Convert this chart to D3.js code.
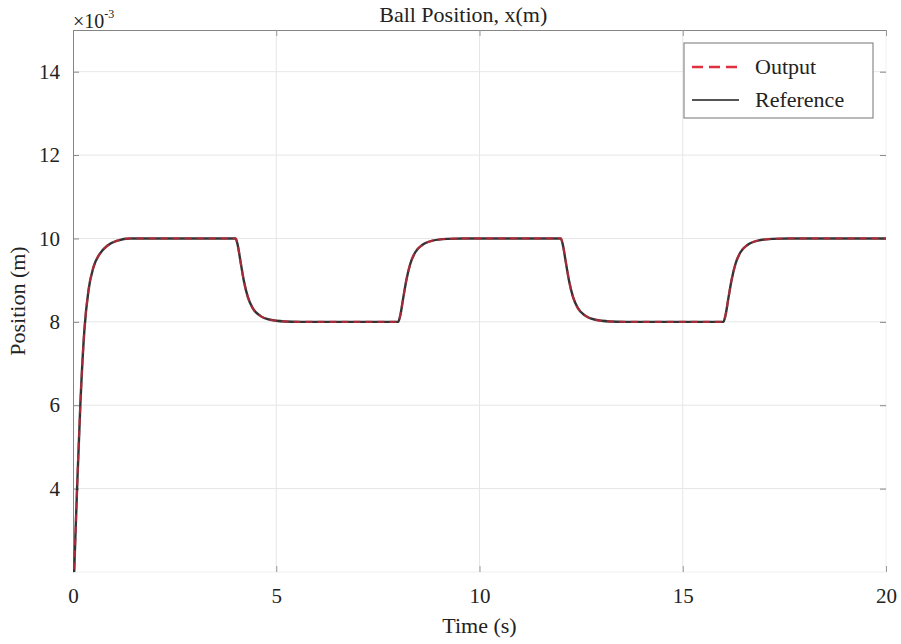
<!DOCTYPE html>
<html>
<head>
<meta charset="utf-8">
<script src="https://cdn.jsdelivr.net/npm/d3@7"></script>
<style>
  body { margin: 0; background: #fff; }
  svg text { font-family: "Liberation Serif", "Times New Roman", serif; fill: #222; }
</style>
</head>
<body>
<div id="chart"></div>
<script>
// time samples (s)
const timeValues = [0, 0.05, 0.10, 0.18, 0.28, 0.38, 0.50, 0.65, 0.85, 1.10, 1.40,
    4.00, 4.05, 4.12, 4.20, 4.30, 4.42, 4.60, 4.85, 5.20, 5.60,
    8.00, 8.05, 8.12, 8.20, 8.30, 8.42, 8.60, 8.85, 9.20, 9.60,
    12.00, 12.05, 12.12, 12.20, 12.30, 12.42, 12.60, 12.85, 13.20, 13.60,
    16.00, 16.05, 16.12, 16.20, 16.30, 16.42, 16.60, 16.85, 17.20, 17.60, 20.00];

// positions, x10^-3 m
const referenceValues = [1.2, 2.6, 4.0, 6.0, 7.8, 8.75, 9.3, 9.62, 9.83, 9.95, 10.0,
    10.0, 9.85, 9.45, 9.0, 8.6, 8.33, 8.15, 8.05, 8.01, 8.0,
    8.0, 8.15, 8.55, 9.0, 9.4, 9.67, 9.85, 9.95, 9.99, 10.0,
    10.0, 9.85, 9.45, 9.0, 8.6, 8.33, 8.15, 8.05, 8.01, 8.0,
    8.0, 8.15, 8.55, 9.0, 9.4, 9.67, 9.85, 9.95, 9.99, 10.0, 10.0];
const outputValues = [1.2, 2.6, 4.0, 6.0, 7.8, 8.75, 9.3, 9.62, 9.83, 9.95, 10.0,
    10.0, 9.85, 9.45, 9.0, 8.6, 8.33, 8.15, 8.05, 8.01, 8.0,
    8.0, 8.15, 8.55, 9.0, 9.4, 9.67, 9.85, 9.95, 9.99, 10.0,
    10.0, 9.85, 9.45, 9.0, 8.6, 8.33, 8.15, 8.05, 8.01, 8.0,
    8.0, 8.15, 8.55, 9.0, 9.4, 9.67, 9.85, 9.95, 9.99, 10.0, 10.0];

const xTicks = [0, 5, 10, 15, 20];
const yTicks = [4, 6, 8, 10, 12, 14];
const legendLabels = ["Output", "Reference"];

const width = 901, height = 644;
const margin = {top: 30, right: 15, bottom: 72, left: 73};
const serif = "Liberation Serif";

const svg = d3.select("#chart").append("svg")
    .attr("width", width).attr("height", height);

const x = d3.scaleLinear().domain([0, 20]).range([margin.left, width - margin.right]);
const y = d3.scaleLinear().domain([2, 15]).range([height - margin.bottom, margin.top]);

// grid
svg.append("g").selectAll("line").data(xTicks.slice(1, -1)).enter().append("line")
    .attr("x1", d => x(d)).attr("x2", d => x(d))
    .attr("y1", y(15)).attr("y2", y(2))
    .attr("stroke", "#e6e6e6").attr("stroke-width", 1);
svg.append("g").selectAll("line").data(yTicks).enter().append("line")
    .attr("x1", x(0)).attr("x2", x(20))
    .attr("y1", d => y(d)).attr("y2", d => y(d))
    .attr("stroke", "#e6e6e6").attr("stroke-width", 1);

// box: faint right/bottom, darker top/left
svg.append("line").attr("x1", x(20)).attr("x2", x(20)).attr("y1", y(15)).attr("y2", y(2))
    .attr("stroke", "#f0f0f0");
svg.append("line").attr("x1", x(0)).attr("x2", x(20)).attr("y1", y(2)).attr("y2", y(2))
    .attr("stroke", "#f0f0f0");

// axes with inward ticks
const tickSize = 6;
const bottomAxis = svg.append("g").attr("transform", `translate(0,${y(2)})`)
    .call(d3.axisBottom(x).tickValues(xTicks).tickSizeInner(-tickSize).tickSizeOuter(0).tickPadding(16));
bottomAxis.attr("font-family", serif);
bottomAxis.select(".domain").remove();
bottomAxis.selectAll("line").attr("stroke", "#999");
bottomAxis.selectAll("text").attr("font-size", 21).attr("fill", "#222");

const topAxis = svg.append("g").attr("transform", `translate(0,${y(15)})`)
    .call(d3.axisTop(x).tickValues(xTicks).tickSizeInner(-tickSize).tickSizeOuter(0).tickFormat(""));
topAxis.select(".domain").attr("stroke", "#858585");
topAxis.selectAll("line").attr("stroke", "#999");

const leftAxis = svg.append("g").attr("transform", `translate(${x(0)},0)`)
    .call(d3.axisLeft(y).tickValues(yTicks).tickSizeInner(-tickSize).tickSizeOuter(0).tickPadding(13));
leftAxis.attr("font-family", serif);
leftAxis.select(".domain").attr("stroke", "#858585");
leftAxis.selectAll("line").attr("stroke", "#888");
leftAxis.selectAll("text").attr("font-size", 21).attr("fill", "#222");

const rightAxis = svg.append("g").attr("transform", `translate(${x(20)},0)`)
    .call(d3.axisRight(y).tickValues(yTicks).tickSizeInner(-tickSize).tickSizeOuter(0).tickFormat(""));
rightAxis.select(".domain").remove();
rightAxis.selectAll("line").attr("stroke", "#888");

// clip for lines
svg.append("clipPath").attr("id", "plotclip").append("rect")
    .attr("x", x(0)).attr("y", y(15)).attr("width", x(20) - x(0)).attr("height", y(2) - y(15));

const line = d3.line().x(d => x(d[0])).y(d => y(d[1])).curve(d3.curveMonotoneX);
const refData = timeValues.map((t, i) => [t, referenceValues[i]]);
const outData = timeValues.map((t, i) => [t, outputValues[i]]);

const plot = svg.append("g").attr("clip-path", "url(#plotclip)");
plot.append("path").datum(refData).attr("d", line)
    .attr("fill", "none").attr("stroke", "#333").attr("stroke-width", 2.4);
plot.append("path").datum(outData).attr("d", line)
    .attr("fill", "none").attr("stroke", "#d8263a").attr("stroke-width", 2.2)
    .attr("stroke-dasharray", "7,5").attr("stroke-opacity", 0.7);

// title and labels
svg.append("text").attr("x", x(9.6)).attr("y", 22)
    .attr("text-anchor", "middle").attr("font-size", 22).text("Ball Position, x(m)");
svg.append("text").attr("x", (x(0) + x(20)) / 2).attr("y", 633)
    .attr("text-anchor", "middle").attr("font-size", 22).text("Time (s)");
svg.append("text").attr("transform", `translate(25,${(y(2) + y(15)) / 2}) rotate(-90)`)
    .attr("text-anchor", "middle").attr("font-size", 22).text("Position (m)");

// exponent label
const expLabel = svg.append("text").attr("x", x(0)).attr("y", 28).attr("font-size", 20);
expLabel.append("tspan").text("\u00d710");
expLabel.append("tspan").attr("dy", -10).attr("font-size", 12).text("-3");

// legend
const legend = svg.append("g").attr("transform", "translate(684,43)");
legend.append("rect").attr("width", 189).attr("height", 75)
    .attr("fill", "#fff").attr("stroke", "#8a8a8a").attr("stroke-width", 1.2);
const legendStyles = [
    {stroke: "#e0303f", dash: "11,6", w: 2.6},
    {stroke: "#555", dash: null, w: 2}
];
legendLabels.forEach((name, i) => {
    const yy = 24 + i * 33;
    legend.append("line").attr("x1", 8).attr("x2", 55).attr("y1", yy).attr("y2", yy)
        .attr("stroke", legendStyles[i].stroke).attr("stroke-width", legendStyles[i].w)
        .attr("stroke-dasharray", legendStyles[i].dash);
    legend.append("text").attr("x", 71).attr("y", yy + 7).attr("font-size", 22).text(name);
});
</script>
</body>
</html>
